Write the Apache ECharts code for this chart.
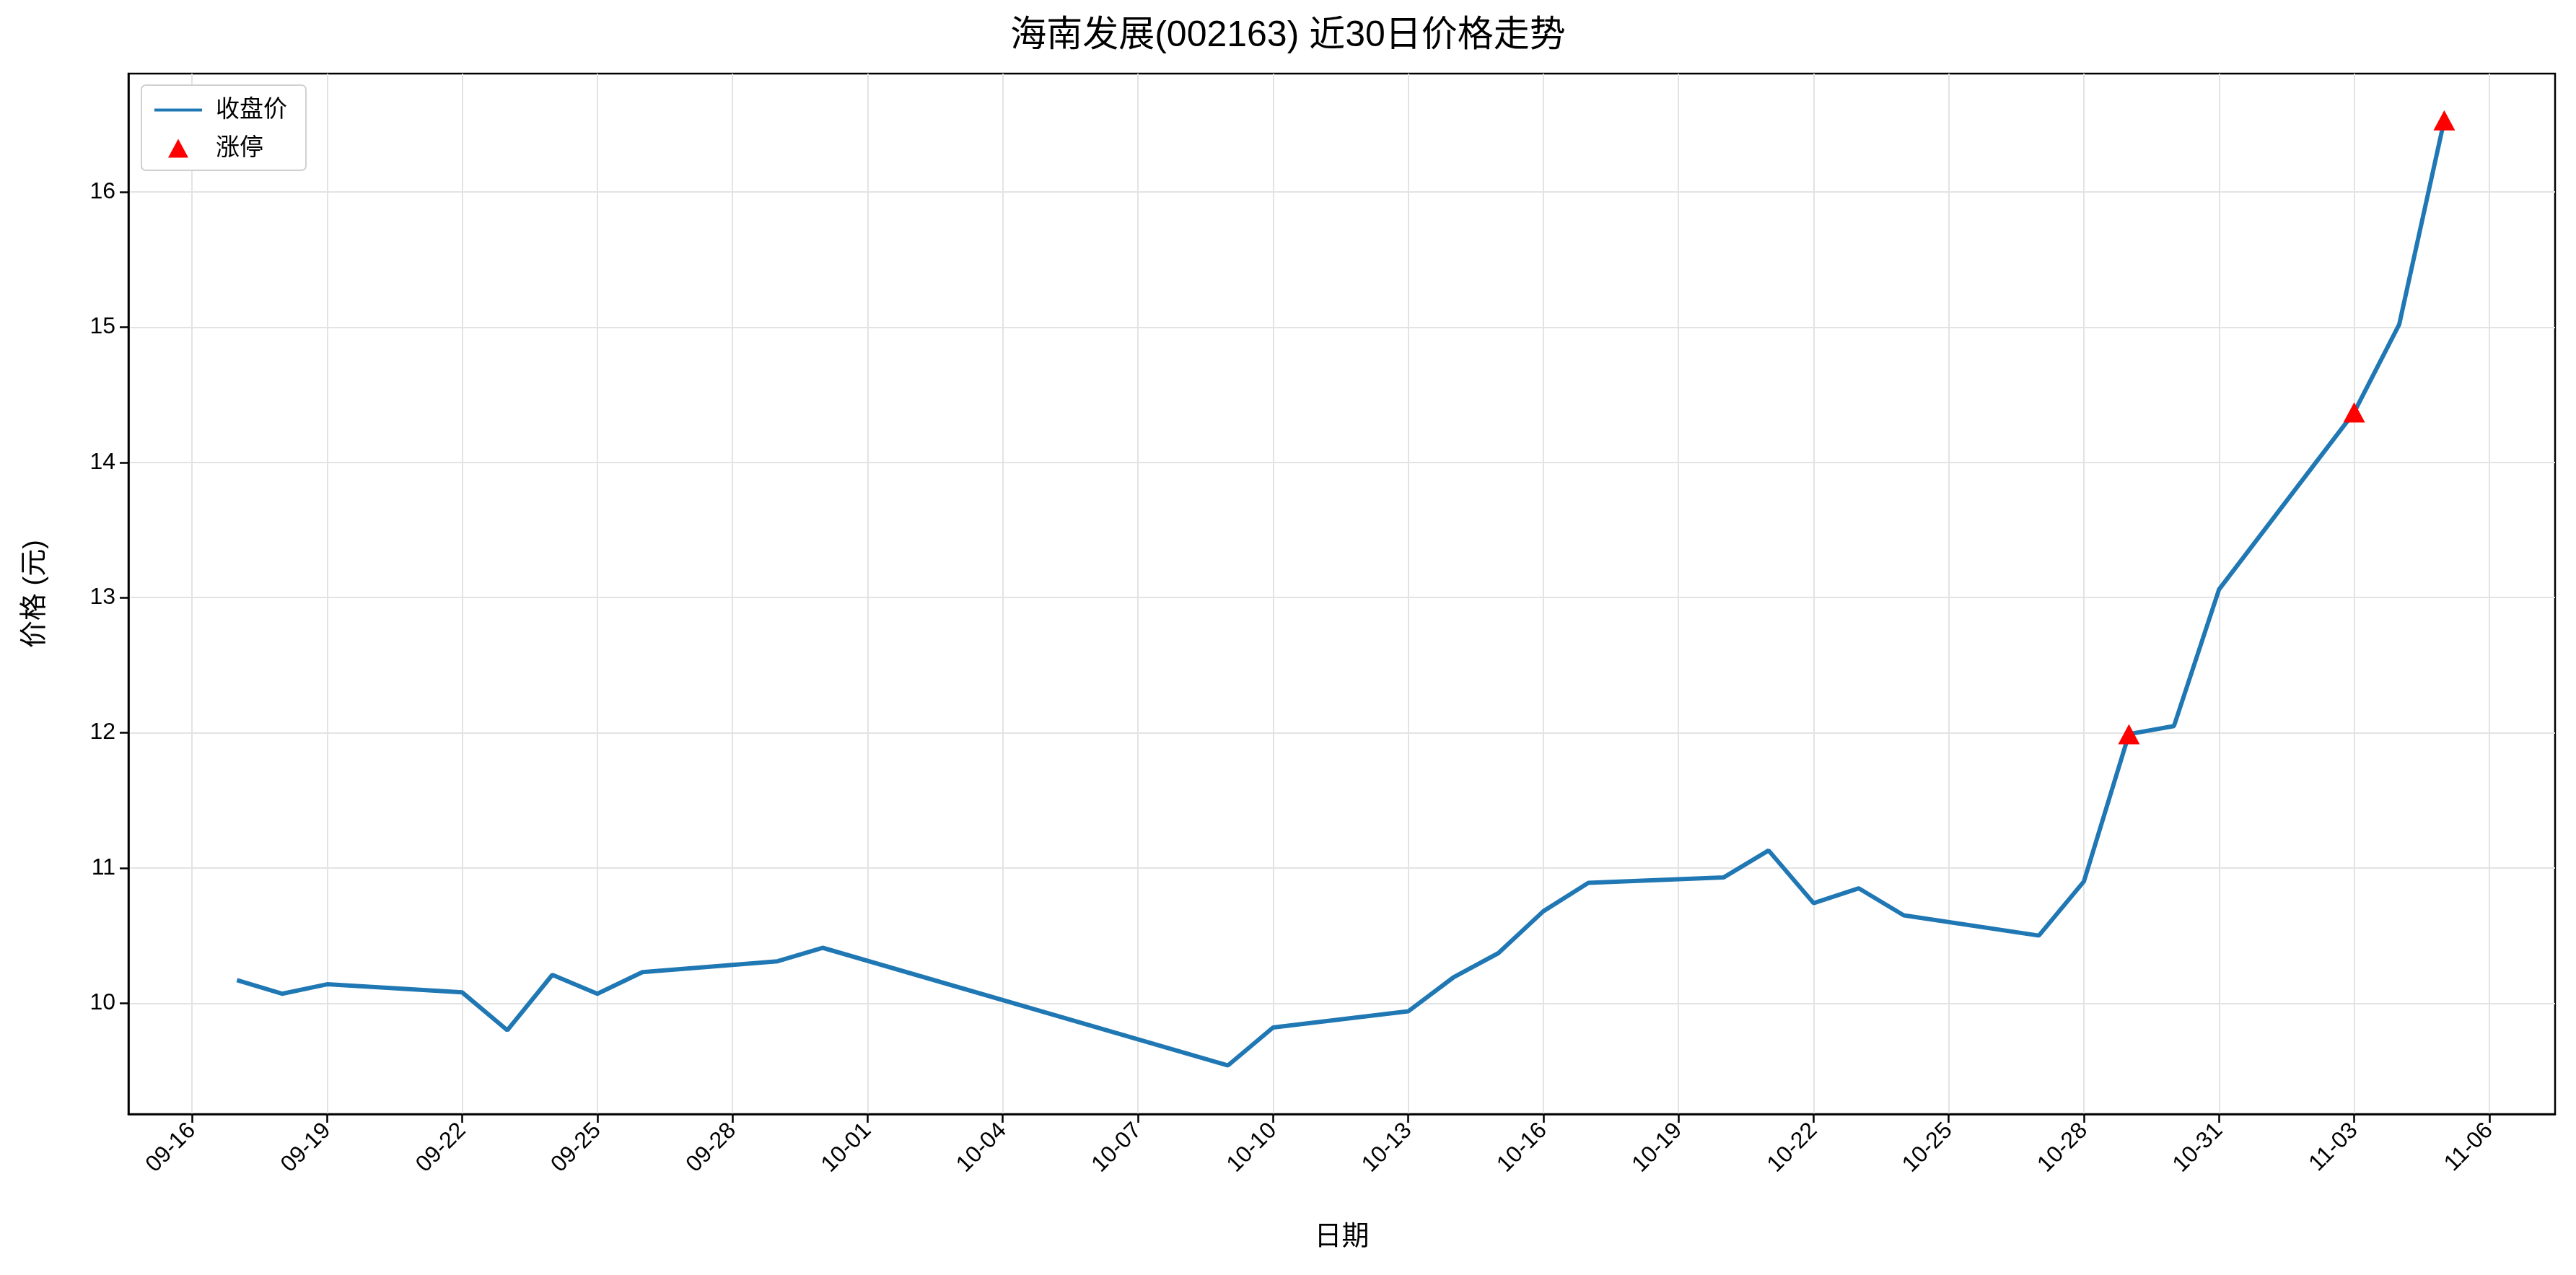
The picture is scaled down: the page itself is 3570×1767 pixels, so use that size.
<!DOCTYPE html>
<html>
<head>
<meta charset="utf-8">
<script src="https://cdn.jsdelivr.net/npm/echarts@6/dist/echarts.min.js"></script>
<style>html,body{margin:0;padding:0;background:#fff}#main{width:3570px;height:1767px}</style>
</head>
<body>
<div id="main"></div>
<script>
// close prices
const dates = ['2025-09-17','2025-09-18','2025-09-19','2025-09-22','2025-09-23','2025-09-24','2025-09-25','2025-09-26','2025-09-29','2025-09-30',
  '2025-10-09','2025-10-10','2025-10-13','2025-10-14','2025-10-15','2025-10-16','2025-10-17','2025-10-20','2025-10-21','2025-10-22',
  '2025-10-23','2025-10-24','2025-10-27','2025-10-28','2025-10-29','2025-10-30','2025-10-31','2025-11-03','2025-11-04','2025-11-05'];
const closes = [10.17,10.07,10.14,10.08,9.80,10.21,10.07,10.23,10.31,10.41,
  9.54,9.82,9.94,10.19,10.37,10.68,10.89,10.93,11.13,10.74,
  10.85,10.65,10.50,10.90,11.99,12.05,13.06,14.37,15.02,16.53];
const limitUpDates = ['2025-10-29','2025-11-03','2025-11-05'];
const xTickLabels = ['09-16','09-19','09-22','09-25','09-28','10-01','10-04','10-07','10-10','10-13','10-16','10-19','10-22','10-25','10-28','10-31','11-03','11-06'];
const yTicks = [10,11,12,13,14,15,16];

// x is days since 2025-09-16
const DAY = 86400000;
const base = Date.UTC(2025, 8, 16);
const dayOf = s => (Date.parse(s + 'T00:00:00Z') - base) / DAY;
const xTicks = xTickLabels.map((_, i) => i * 3);
const lineData = dates.map((d, i) => [dayOf(d), closes[i]]);
const limitData = limitUpDates.map(d => [dayOf(d), closes[dates.indexOf(d)]]);
const labelOf = v => {
    const t = new Date(base + Math.round(v) * DAY);
    return String(t.getUTCMonth() + 1).padStart(2, '0') + '-' + String(t.getUTCDate()).padStart(2, '0');
};

const font = "'Liberation Sans','Noto Sans CJK SC',sans-serif";
const chart = echarts.init(document.getElementById('main'));
chart.setOption({
    backgroundColor: '#fff',
    animation: false,
    textStyle: { fontFamily: font },
    title: {
        text: '海南发展(002163) 近30日价格走势',
        left: 'center', top: 20,
        textStyle: { fontSize: 50, fontWeight: 'normal', color: '#000', fontFamily: font }
    },
    legend: {
        orient: 'vertical', left: 196, top: 118,
        padding: [18, 26, 14, 18], itemGap: 20,
        itemWidth: 66, itemHeight: 26,
        backgroundColor: '#fff', borderColor: '#d0d0d0', borderWidth: 2, borderRadius: 6,
        textStyle: { fontSize: 33, color: '#000', fontFamily: font, padding: [0, 0, 0, 14] },
        data: [
            { name: '收盘价', icon: 'path://M0,0 M66,26 M0,11 L66,11 L66,15 L0,15 Z' },
            { name: '涨停', icon: 'path://M0,0 M66,26 M33,0 L47,26 L19,26 Z' }
        ]
    },
    grid: { left: 178, right: 29, top: 102, bottom: 223, show: true, borderColor: '#000', borderWidth: 2.5 },
    xAxis: {
        type: 'value', min: -1.41, max: 52.46,
        name: '日期', nameLocation: 'middle', nameGap: 152,
        nameTextStyle: { fontSize: 38, color: '#000', fontFamily: font },
        axisLine: { onZero: false, lineStyle: { color: '#000', width: 2.5 } },
        axisTick: { show: true, length: 12, lineStyle: { color: '#000', width: 2.5 }, customValues: xTicks },
        axisLabel: { customValues: xTicks, rotate: 45, fontSize: 32, color: '#000', margin: 18, formatter: labelOf },
        splitLine: { show: true, lineStyle: { color: '#e3e3e3', width: 2 } }
    },
    yAxis: {
        type: 'value', min: 9.18, max: 16.875,
        name: '价格 (元)', nameLocation: 'middle', nameGap: 110, nameRotate: 90,
        nameTextStyle: { fontSize: 38, color: '#000', fontFamily: font },
        axisLine: { show: true, onZero: false, lineStyle: { color: '#000', width: 2.5 } },
        axisTick: { show: true, length: 12, lineStyle: { color: '#000', width: 2.5 }, customValues: yTicks },
        axisLabel: { customValues: yTicks, fontSize: 32, color: '#000', margin: 18 },
        splitLine: { show: true, lineStyle: { color: '#e3e3e3', width: 2 } }
    },
    series: [
        {
            name: '收盘价', type: 'line', data: lineData,
            showSymbol: false, symbol: 'none',
            lineStyle: { color: '#1f77b4', width: 6 }, itemStyle: { color: '#1f77b4' }
        },
        {
            name: '涨停', type: 'scatter', data: limitData, symbol: 'triangle', symbolSize: [30, 28],
            itemStyle: { color: '#ff0000', opacity: 1 }, z: 5
        }
    ]
});
</script>
</body>
</html>
